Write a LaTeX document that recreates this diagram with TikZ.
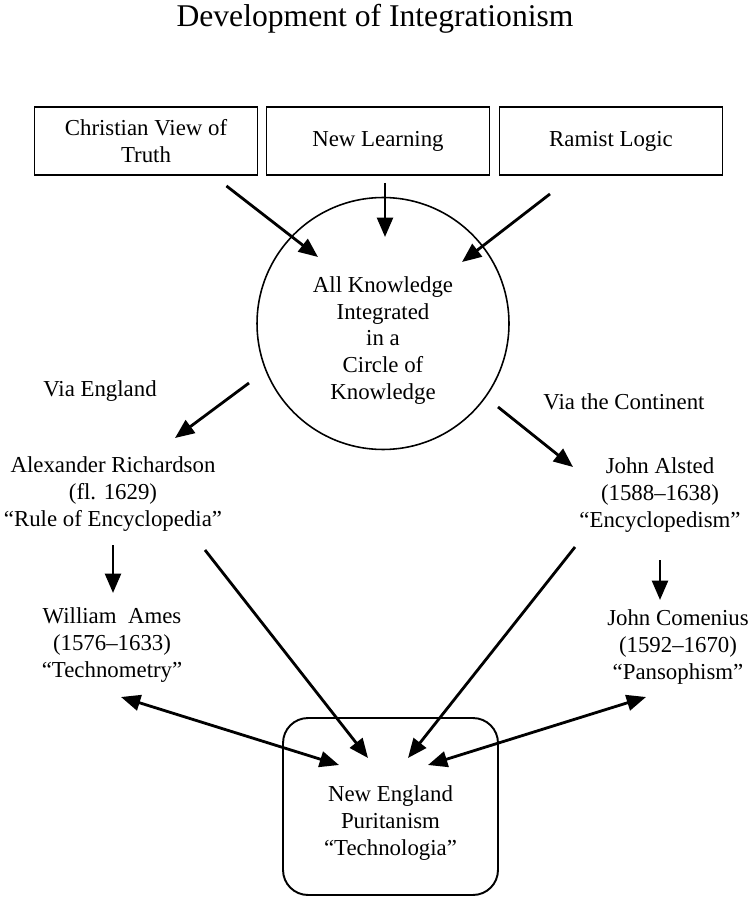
\documentclass[tikz,border=0pt]{standalone}
\usepackage{fontspec}
\setmainfont{Liberation Serif}
\usetikzlibrary{arrows.meta}
\usetikzlibrary{positioning}

\begin{document}
\begin{tikzpicture}[x=0.02cm,y=-0.02cm,
  every node/.style={font=\fontsize{13}{15.2}\selectfont, align=center},
  topbox/.style={draw, line width=1.1pt, minimum width=4.46cm, minimum height=1.36cm},
  arr/.style={-{Triangle[length=11pt,width=9pt]}, line width=1.6pt},
  dbl/.style={{Triangle[length=11pt,width=9pt]}-{Triangle[length=11pt,width=9pt]}, line width=1.6pt}]
  \fill[white] (0,0) rectangle (750,898);
  \useasboundingbox (0,0) rectangle (750,898);
  % title and the three sources
  \node[font=\fontsize{18}{22}\selectfont] (title) at (375,19) {Development of Integrationism};
  \node[topbox] (cvt) at (146,141) {Christian View of\\Truth};
  \node[topbox] (nl) at (378,141) {New Learning};
  \node[topbox] (rl) at (611,141) {Ramist Logic};
  % circle of knowledge
  \node[draw, circle, line width=0.9pt, minimum size=5.04cm,
    label={[align=center, yshift=-0.34cm]center:All Knowledge\\Integrated\\in a\\Circle of\\Knowledge}] (circ) at (383,323.5) {};
  \node (veng) at (100,391) {Via England};
  \node (vcont) at (624,402) {Via the Continent};
  % the two routes
  \node (ar) at (113,494) {Alexander Richardson\\(fl. 1629)\\“Rule of Encyclopedia”};
  \node (ja) at (660,495) {John Alsted\\(1588–1638)\\“Encyclopedism”};
  \node (wa) at (112,645) {William\ \ Ames\\(1576–1633)\\“Technometry”};
  \node (jc) at (678,647) {John Comenius\\(1592–1670)\\“Pansophism”};
  \node[draw, rounded corners=0.5cm, line width=1.1pt, minimum width=4.3cm, minimum height=3.54cm,
    label={[align=center, yshift=-0.33cm]center:New England\\Puritanism\\“Technologia”}] (ne) at (390.5,806.5) {};

  \draw[arr] ([shift={(-32,10)}]cvt.south east) -- ([shift={(-65,-66.5)}]circ.center);
  \draw[arr] ([shift={(7,7)}]nl.south) -- ([shift={(2,-86.5)}]circ.center);
  \draw[arr] ([shift={(-61,18)}]rl.south) -- ([shift={(79,-61.5)}]circ.center);
  \draw[arr] ([shift={(-134,59.5)}]circ.center) -- ([shift={(62,-56)}]ar.center);
  \draw[arr] ([shift={(115,83.5)}]circ.center) -- ([shift={(-87,-28)}]ja.center);
  \draw[arr] ([shift={(0,51)}]ar.center) -- ([shift={(1,-52)}]wa.center);
  \draw[arr] ([shift={(0,65)}]ja.center) -- ([shift={(-18,-47)}]jc.center);
  \draw[arr] ([shift={(92,56)}]ar.center) -- ([shift={(-22.5,-48.5)}]ne.center);
  \draw[arr] ([shift={(-85,52)}]ja.center) -- ([shift={(17.5,-48.5)}]ne.center);
  \draw[dbl] ([shift={(9,52)}]wa.center) -- ([shift={(-51.5,-41.5)}]ne.center);
  \draw[dbl] ([shift={(-32,50)}]jc.center) -- ([shift={(37.5,-41.5)}]ne.center);
\end{tikzpicture}
\end{document}
